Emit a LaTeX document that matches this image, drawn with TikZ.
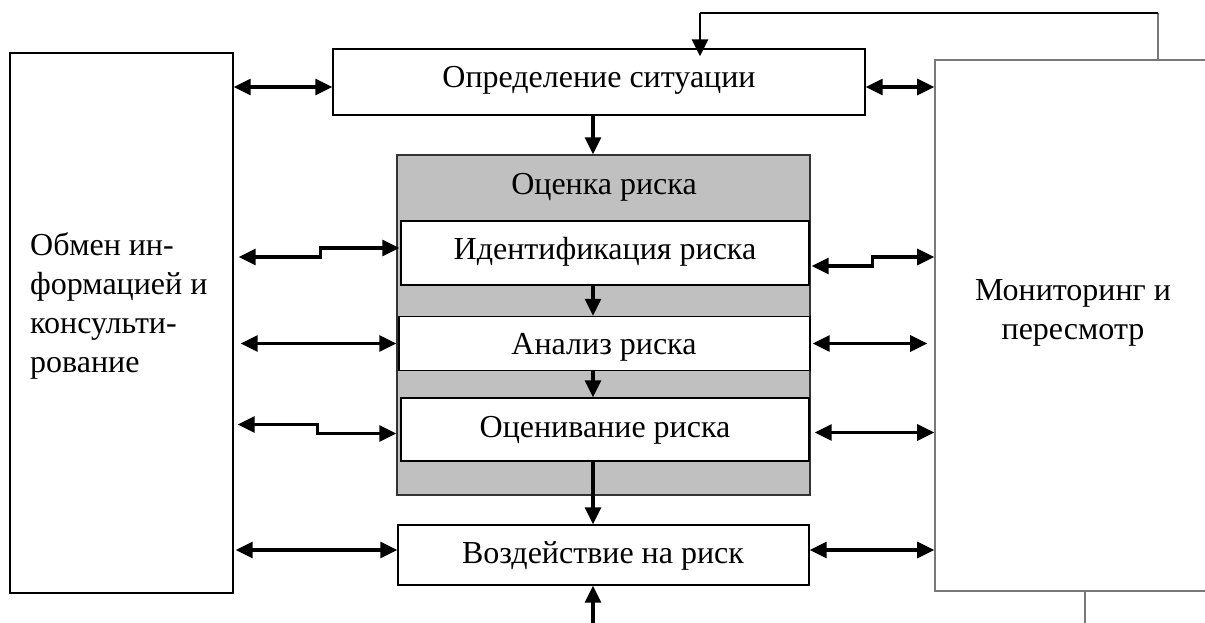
\documentclass[tikz,border=0pt]{standalone}
\usepackage{fontspec}
\setmainfont{Liberation Serif}
\usetikzlibrary{arrows.meta,calc}
\definecolor{boxgray}{RGB}{192,192,192}
\definecolor{edgegray}{RGB}{120,120,120}
\tikzset{
  plainbox/.style={draw=black, line width=1.4pt, fill=white, inner sep=0pt},
  graybox/.style={draw=black!80, line width=1.4pt, fill=boxgray, inner sep=0pt},
  lbl/.style={font=\fontsize{32}{39}\selectfont, inner sep=0pt},
  thinline/.style={line width=1.6pt},
  tip/.style={line width=3.2pt, -{Triangle[length=17pt,width=16pt]}},
  biarrow/.style={line width=3.2pt, {Triangle[length=17pt,width=16pt]}-{Triangle[length=17pt,width=16pt]}},
}
\begin{document}
\begin{tikzpicture}[x=1pt,y=-1pt]
\useasboundingbox (0,0) rectangle (1205,623);
\clip (0,0) rectangle (1205,623);
\fill[white] (0,0) rectangle (1205,623);
% boxes
\node[plainbox, minimum width=223pt, minimum height=540pt] (lbox) at (121.5,323) {};
\node[draw=edgegray, line width=1.6pt, fill=white, minimum width=300pt, minimum height=531pt, inner sep=0pt] (rbox) at (1085,325.5) {};
\node[plainbox, minimum width=532pt, minimum height=66pt] (opr) at (599,82) {};
\node[graybox, minimum width=413pt, minimum height=340pt] (ocen) at (603.5,325) {};
\node[plainbox, minimum width=408pt, minimum height=64pt] (ident) at (605,253) {};
\node[plainbox, minimum width=411pt, minimum height=54pt] (anal) at (604.5,343.5) {};
\node[plainbox, minimum width=408pt, minimum height=63pt] (otsen) at (605,429.5) {};
\node[plainbox, minimum width=411pt, minimum height=60pt] (vozd) at (603.5,555) {};
% texts
\node[lbl] (toprt) at (599,80) {Определение ситуации};
\node[lbl] (tocen) at (604,187) {Оценка риска};
\node[lbl] (tident) at (605,252) {Идентификация риска};
\node[lbl] (tanal) at (604,347) {Анализ риска};
\node[lbl] (totsen) at (605,430) {Оценивание риска};
\node[lbl] (tvozd) at (603,556) {Воздействие на риск};
\node[lbl, align=left, anchor=west] (tleft) at (30,306) {Обмен ин-\\формацией и\\консульти-\\рование};
\node[lbl, align=center] (tright) at (1073,313) {Мониторинг и\\пересмотр};
% helper coordinates
\coordinate (vx) at (593,0);
\coordinate (fbt) at (1158,13);
\coordinate (fbd) at (700,13);
\coordinate (fbb) at (1085,650);
% vertical flow
\draw[tip] (opr.south -| vx) -- (ocen.north -| vx);
\draw[tip] (ident.south -| vx) -- (anal.north -| vx);
\draw[tip] (anal.south -| vx) -- (otsen.north -| vx);
\draw[tip] (otsen.south -| vx) -- (vozd.north -| vx);
% feedback top
\draw[thinline, draw=edgegray] (fbt |- rbox.north) -- (fbt);
\draw[thinline] (fbt) -- (fbd);
\draw[tip, line width=2.6pt] (fbd) -- ($(fbd |- opr.north)+(0,8)$);
% feedback bottom
\draw[thinline, draw=edgegray] (fbb |- rbox.south) -- (fbb) -- (fbb -| vx);
\draw[tip] (fbb -| vx) -- (vozd.south -| vx);
% left arrows
\draw[biarrow] ($(lbox.east |- opr.west)+(0,5)$) -- ($(opr.west)+(0,5)$);
\draw[biarrow] ($(lbox.east |- ident.west)+(5,4)$) -- ($(lbox.east |- ident.west)+(87,4)$) |- ($(ident.west)+(-1,-5)$);
\draw[biarrow] ($(lbox.east |- anal.west)+(7,0)$) -- ($(ocen.west |- anal.west)$);
\draw[biarrow] ($(lbox.east |- otsen.west)+(4,-5)$) -- ($(lbox.east |- otsen.west)+(84,-5)$) |- ($(ocen.west |- otsen.west)+(0,4)$);
\draw[biarrow] ($(lbox.east |- vozd.west)+(2,-5)$) -- ($(vozd.west)+(0,-5)$);
% right arrows
\draw[biarrow] ($(opr.east)+(0,5)$) -- ($(rbox.west |- opr.east)+(0,5)$);
\draw[biarrow] ($(ident.east)+(2,13)$) -- ($(ident.east)+(63,13)$) |- ($(rbox.west |- ident.east)+(0,4)$);
\draw[biarrow] ($(anal.east)+(2,0)$) -- ($(rbox.west |- anal.east)+(-7,0)$);
\draw[biarrow] ($(otsen.east)+(5,3)$) -- ($(rbox.west |- otsen.east)+(0,3)$);
\draw[biarrow] ($(vozd.east)+(0,-5)$) -- ($(rbox.west |- vozd.east)+(0,-5)$);
\end{tikzpicture}
\end{document}
